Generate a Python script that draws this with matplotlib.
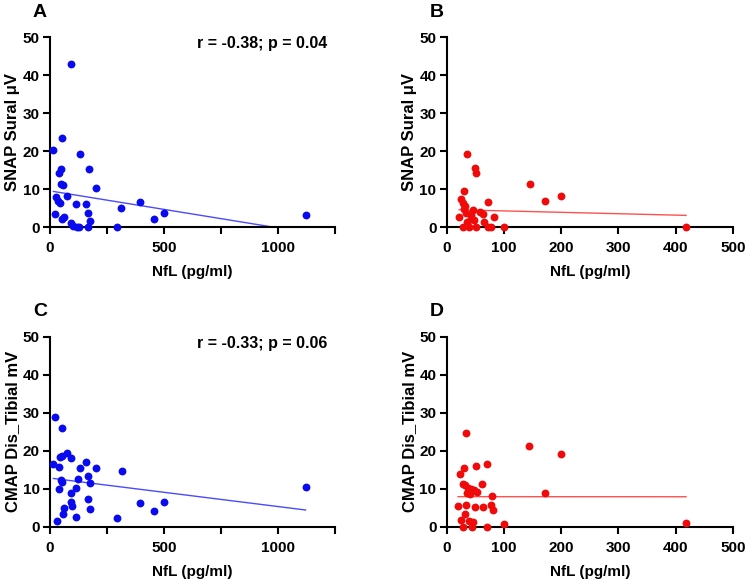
import numpy as np
import matplotlib
matplotlib.use("Agg")
import matplotlib.pyplot as plt

plt.rcParams["font.family"] = ["Liberation Sans", "DejaVu Sans"]
plt.rcParams["font.weight"] = "bold"

# Painel A - SNAP Sural (azul)
a_x = [93, 54, 15, 132, 172, 47, 41, 47, 56, 203, 76, 26, 37, 44, 113, 157, 166,
       21, 63, 54, 176, 91, 99, 118, 128, 166, 294, 313, 394, 456, 499, 1121]
a_y = [43.0, 23.5, 20.2, 19.3, 15.2, 15.4, 14.3, 11.4, 11.0, 10.3, 8.3, 7.9, 6.8,
       6.4, 6.0, 6.1, 3.8, 3.4, 2.8, 2.1, 1.5, 1.1, 0.3, 0.0, 0.0, 0.0, 0.0, 5.1,
       6.6, 2.1, 3.7, 3.1]
a_fit = (9.55, -0.00974)

# Painel B - SNAP Sural (vermelho)
b_x = [36, 49, 52, 31, 145, 171, 200, 72, 26, 28, 33, 30, 47, 58, 63, 22, 83, 42,
       48, 66, 36, 29, 39, 51, 72, 78, 101, 418, 42, 34]
b_y = [19.3, 15.5, 14.2, 9.5, 11.4, 7.0, 8.3, 6.6, 7.3, 6.3, 5.7, 4.8, 4.6, 4.1,
       3.5, 2.6, 2.6, 2.2, 1.8, 1.3, 1.3, 0.0, 0.0, 0.0, 0.0, 0.0, 0.0, 0.0, 3.1,
       3.6]
b_fit = (4.65, -0.0037)

# Painel C - CMAP Dis_Tibial (azul)
c_x = [22, 54, 15, 40, 44, 53, 76, 93, 157, 203, 132, 315, 166, 125, 47, 54, 174,
       115, 40, 91, 166, 91, 394, 499, 96, 63, 176, 456, 56, 113, 294, 29, 1121]
c_y = [28.8, 25.9, 16.5, 15.8, 18.4, 18.7, 19.5, 18.0, 17.1, 15.4, 15.4, 14.6,
       13.3, 12.5, 12.2, 11.8, 11.6, 10.1, 9.9, 8.8, 7.2, 6.4, 6.3, 6.5, 5.5, 4.8,
       4.7, 4.2, 3.3, 2.5, 2.3, 1.6, 10.4]
c_fit = (12.8, -0.0075)

# Painel D - CMAP Dis_Tibial (vermelho)
d_x = [34, 144, 199, 71, 30, 51, 24, 29, 33, 62, 38, 43, 48, 53, 36, 41, 171, 80,
       20, 34, 49, 64, 77, 81, 33, 26, 39, 46, 29, 45, 71, 100, 418]
d_y = [24.6, 21.3, 19.0, 16.6, 15.4, 15.9, 13.8, 11.3, 10.9, 11.3, 10.3, 10.0,
       9.6, 9.2, 8.9, 8.6, 8.9, 8.0, 5.4, 5.7, 5.2, 5.2, 5.8, 4.5, 3.3, 1.7, 1.6,
       1.1, 0.0, 0.0, 0.0, 0.6, 1.0]
d_fit = (7.9, -0.00005)

paineis = [
    ("A", a_x, a_y, a_fit, "SNAP Sural μV", "r = -0.38; p = 0.04", "#0a0af0", "#4a4aff", 1250),
    ("B", b_x, b_y, b_fit, "SNAP Sural μV", None, "#f00a0a", "#ff5050", 500),
    ("C", c_x, c_y, c_fit, "CMAP Dis_Tibial mV", "r = -0.33; p = 0.06", "#0a0af0", "#4a4aff", 1250),
    ("D", d_x, d_y, d_fit, "CMAP Dis_Tibial mV", None, "#f00a0a", "#ff5050", 500),
]

posicoes = {
    "A": [0.0668, 0.609, 0.381, 0.327],
    "B": [0.597, 0.609, 0.383, 0.327],
    "C": [0.0668, 0.0935, 0.381, 0.327],
    "D": [0.597, 0.0935, 0.383, 0.327],
}

fig = plt.figure(figsize=(7.48, 5.81), dpi=100)

for letra, xs, ys, fit, ylab, anot, cor, cor_linha, xmax in paineis:
    ax = fig.add_axes(posicoes[letra])
    ax.scatter(xs, ys, s=32, color=cor, zorder=3, clip_on=False, linewidths=0)
    xl = np.array([min(xs), max(xs)])
    ax.plot(xl, fit[0] + fit[1] * xl, color=cor_linha, lw=1.0, zorder=2)
    ax.set_xlim(0, xmax)
    ax.set_ylim(0, 50)
    ax.set_yticks(range(0, 51, 10))
    if xmax == 1250:
        ax.set_xticks(range(0, 1251, 250))
        ax.set_xticklabels(["0", "", "500", "", "1000", ""])
    else:
        ax.set_xticks(range(0, 501, 100))
    for s in ["top", "right"]:
        ax.spines[s].set_visible(False)
    for s in ["left", "bottom"]:
        ax.spines[s].set_linewidth(1.5)
    ax.tick_params(width=1.5, length=4.8, labelsize=11)
    ax.tick_params(axis="x", pad=5.5)
    ax.tick_params(axis="y", pad=2.5)
    for lbl in ax.get_xticklabels() + ax.get_yticklabels():
        lbl.set_fontweight("bold")
    ax.set_xlabel("NfL (pg/ml)", fontsize=11, fontweight="bold", labelpad=7)
    ax.set_ylabel(ylab, fontsize=12, fontweight="bold", labelpad=2)
    if anot:
        ax.text(0.972, 0.965, anot, transform=ax.transAxes, ha="right", va="center",
                fontsize=11.5, fontweight="bold")
    ax.text(-0.06, 1.13, letra, transform=ax.transAxes, ha="left", va="center",
            fontsize=14, fontweight="bold")

fig.savefig("out.png", dpi=100)
